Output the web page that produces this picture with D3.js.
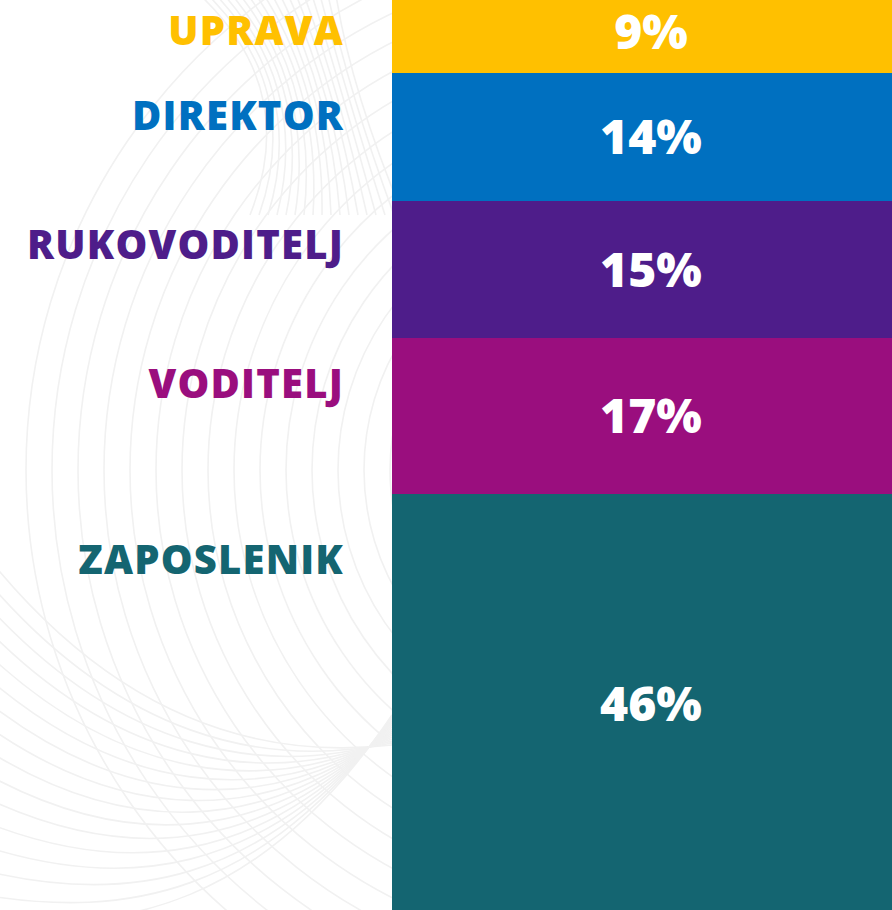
<!doctype html>
<html lang="hr">
<head>
<meta charset="utf-8">
<title>Struktura</title>
<script src="https://cdn.jsdelivr.net/npm/d3@7"></script>
<style>
  html, body { margin: 0; padding: 0; background: #fff; overflow: hidden; }
  text { font-family: "Open Sans", "DejaVu Sans", sans-serif; font-weight: 800; }
</style>
</head>
<body>
<div id="chart"></div>
<script>
  // data, top to bottom
  const categories = ['UPRAVA', 'DIREKTOR', 'RUKOVODITELJ', 'VODITELJ', 'ZAPOSLENIK'];
  const shares = [9, 14, 15, 17, 46];
  const colors = ['#ffc000', '#0070c0', '#4e1d8a', '#9a0e7e', '#146571'];

  const W = 892, H = 910;
  const barX0 = 392, barX1 = 910;

  const svg = d3.select('#chart').append('svg')
    .attr('width', W)
    .attr('height', H);

  // faint background swirl (decoration only)
  const deco = svg.append('g')
    .attr('fill', 'none')
    .attr('stroke', '#f1f1f1')
    .attr('stroke-width', 1.6);

  d3.range(0, 15).forEach(i => {
    const r = 220 + i * 26;
    const p = d3.path();
    p.arc(610, 470, r, Math.PI * 0.62, Math.PI * 1.38);
    deco.append('path').attr('d', p.toString());
  });
  d3.range(0, 16).forEach(i => {
    const p = d3.path();
    p.moveTo(-10, 560 + i * 24);
    p.bezierCurveTo(120, 720 + i * 14, 260, 760 + i * 10, 392, 745 - i * 2);
    deco.append('path').attr('d', p.toString());
  });
  d3.range(0, 18).forEach(i => {
    const p = d3.path();
    p.moveTo(200 + i * 8, -5);
    p.quadraticCurveTo(300 + i * 3, 90, 250 + i * 9, 215);
    deco.append('path').attr('d', p.toString());
  });
  deco.append('rect').attr('x', barX0).attr('y', 0).attr('width', W).attr('height', H)
    .attr('fill', '#fff').attr('stroke', 'none');

  // stack from the bottom up
  let acc = 0;
  const rows = categories.map((c, i) => ({ cat: c, v: shares[i], color: colors[i] }))
    .reverse()
    .map(d => { const r = { ...d, lo: acc, hi: acc + d.v }; acc += d.v; return r; })
    .reverse();

  const y = d3.scaleLinear()
    .domain([0, d3.sum(shares)])
    .range([914, -9]);

  svg.selectAll('.seg')
    .data(rows)
    .enter()
    .append('rect')
      .attr('class', 'seg')
      .attr('x', barX0)
      .attr('width', barX1 - barX0)
      .attr('y', d => Math.round(y(d.hi)))
      .attr('height', d => Math.round(y(d.lo)) - Math.round(y(d.hi)))
      .attr('fill', d => d.color);

  svg.selectAll('.val')
    .data(rows)
    .enter()
    .append('text')
      .attr('class', 'val')
      .attr('x', (barX0 + barX1) / 2)
      .attr('y', d => (y(d.lo) + y(d.hi)) / 2)
      .attr('dy', '0.36em')
      .attr('text-anchor', 'middle')
      .attr('fill', '#fff')
      .style('font-size', '48px')
      .text(d => d.v + '%');

  svg.selectAll('.lab')
    .data(rows)
    .enter()
    .append('text')
      .attr('class', 'lab')
      .attr('x', 344)
      .attr('y', d => y(d.hi) + 47 + (y(d.lo) - y(d.hi)) * 0.08)
      .attr('text-anchor', 'end')
      .attr('fill', d => d.color)
      .style('font-size', '40px')
      .style('letter-spacing', '1.2px')
      .text(d => d.cat);
</script>
</body>
</html>
